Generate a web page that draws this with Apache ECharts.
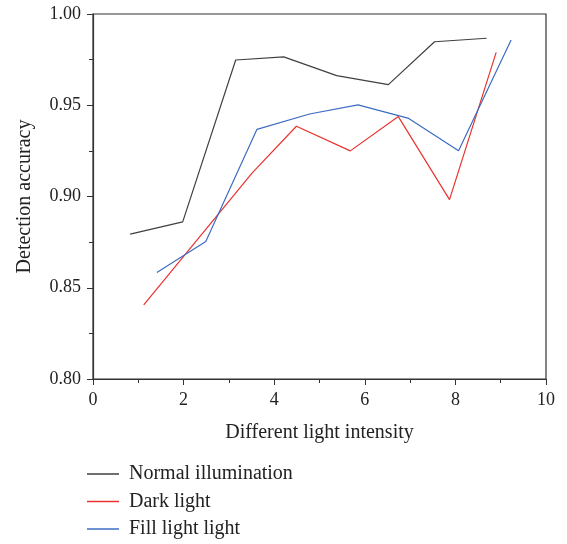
<!DOCTYPE html>
<html>
<head>
<meta charset="utf-8">
<script src="https://cdn.jsdelivr.net/npm/echarts@6/dist/echarts.min.js"></script>
<style>
  html, body { margin: 0; padding: 0; background: #fff; }
  #chart { width: 567px; height: 544px; }
</style>
</head>
<body>
<div id="chart"></div>
<script>
// values
const seriesNames = ['Normal illumination', 'Dark light', 'Fill light light']
const normalX = [0.82, 1.98, 3.15, 4.21, 5.38, 6.52, 7.54, 8.69]
const normalY = [0.8794, 0.8861, 0.9748, 0.9765, 0.9662, 0.9613, 0.9848, 0.9867]
const darkX = [1.12, 3.51, 4.49, 5.68, 6.74, 7.87, 8.90]
const darkY = [0.8406, 0.9128, 0.9385, 0.925, 0.9438, 0.8983, 0.979]
const fillX = [1.41, 2.49, 3.62, 4.78, 5.85, 6.97, 8.07, 9.23]
const fillY = [0.8583, 0.8753, 0.9368, 0.9452, 0.9502, 0.9428, 0.9251, 0.9858]
const colors = ['#404040', '#e8332e', '#3c6cc2']

const font = 'Liberation Serif'

function pairs(xs, ys) {
  return xs.map((x, i) => [x, ys[i]])
}

const chart = echarts.init(document.getElementById('chart'))
chart.setOption({
  animation: false,
  color: colors,
  grid: {
    left: 93, right: 21, top: 14, bottom: 165,
    show: true, borderColor: '#333', borderWidth: 1.2
  },
  legend: {
    orient: 'vertical',
    left: 87, top: 464, padding: 0,
    icon: 'rect',
    itemWidth: 32, itemHeight: 1.5, itemGap: 7.5,
    textStyle: { fontFamily: font, fontSize: 20, color: '#222', padding: [0, 0, 0, 5] },
    data: seriesNames
  },
  xAxis: {
    type: 'value', min: 0, max: 10, interval: 2,
    name: 'Different light intensity',
    nameLocation: 'middle', nameGap: 44,
    nameTextStyle: { fontFamily: font, fontSize: 20, color: '#222' },
    axisLine: { lineStyle: { color: '#333', width: 1.2 } },
    axisTick: { length: 6, lineStyle: { color: '#333' } },
    minorTick: { show: true, splitNumber: 2, length: 4, lineStyle: { color: '#333' } },
    axisLabel: { fontFamily: font, fontSize: 18, color: '#222', margin: 12 },
    splitLine: { show: false }
  },
  yAxis: {
    type: 'value', min: 0.8, max: 1.0, interval: 0.05,
    name: 'Detection accuracy',
    nameLocation: 'middle', nameGap: 58,
    nameTextStyle: { fontFamily: font, fontSize: 20, color: '#222' },
    axisLine: { show: true, lineStyle: { color: '#333', width: 1.2 } },
    axisTick: { show: true, length: 6, lineStyle: { color: '#333' } },
    minorTick: { show: true, splitNumber: 2, length: 4, lineStyle: { color: '#333' } },
    axisLabel: {
      fontFamily: font, fontSize: 18, color: '#222', margin: 12,
      formatter: v => v.toFixed(2)
    },
    splitLine: { show: false }
  },
  series: [
    { name: seriesNames[0], type: 'line', symbol: 'none', data: pairs(normalX, normalY), lineStyle: { width: 1.2 } },
    { name: seriesNames[1], type: 'line', symbol: 'none', data: pairs(darkX, darkY), lineStyle: { width: 1.2 } },
    { name: seriesNames[2], type: 'line', symbol: 'none', data: pairs(fillX, fillY), lineStyle: { width: 1.2 } }
  ]
})
</script>
</body>
</html>
